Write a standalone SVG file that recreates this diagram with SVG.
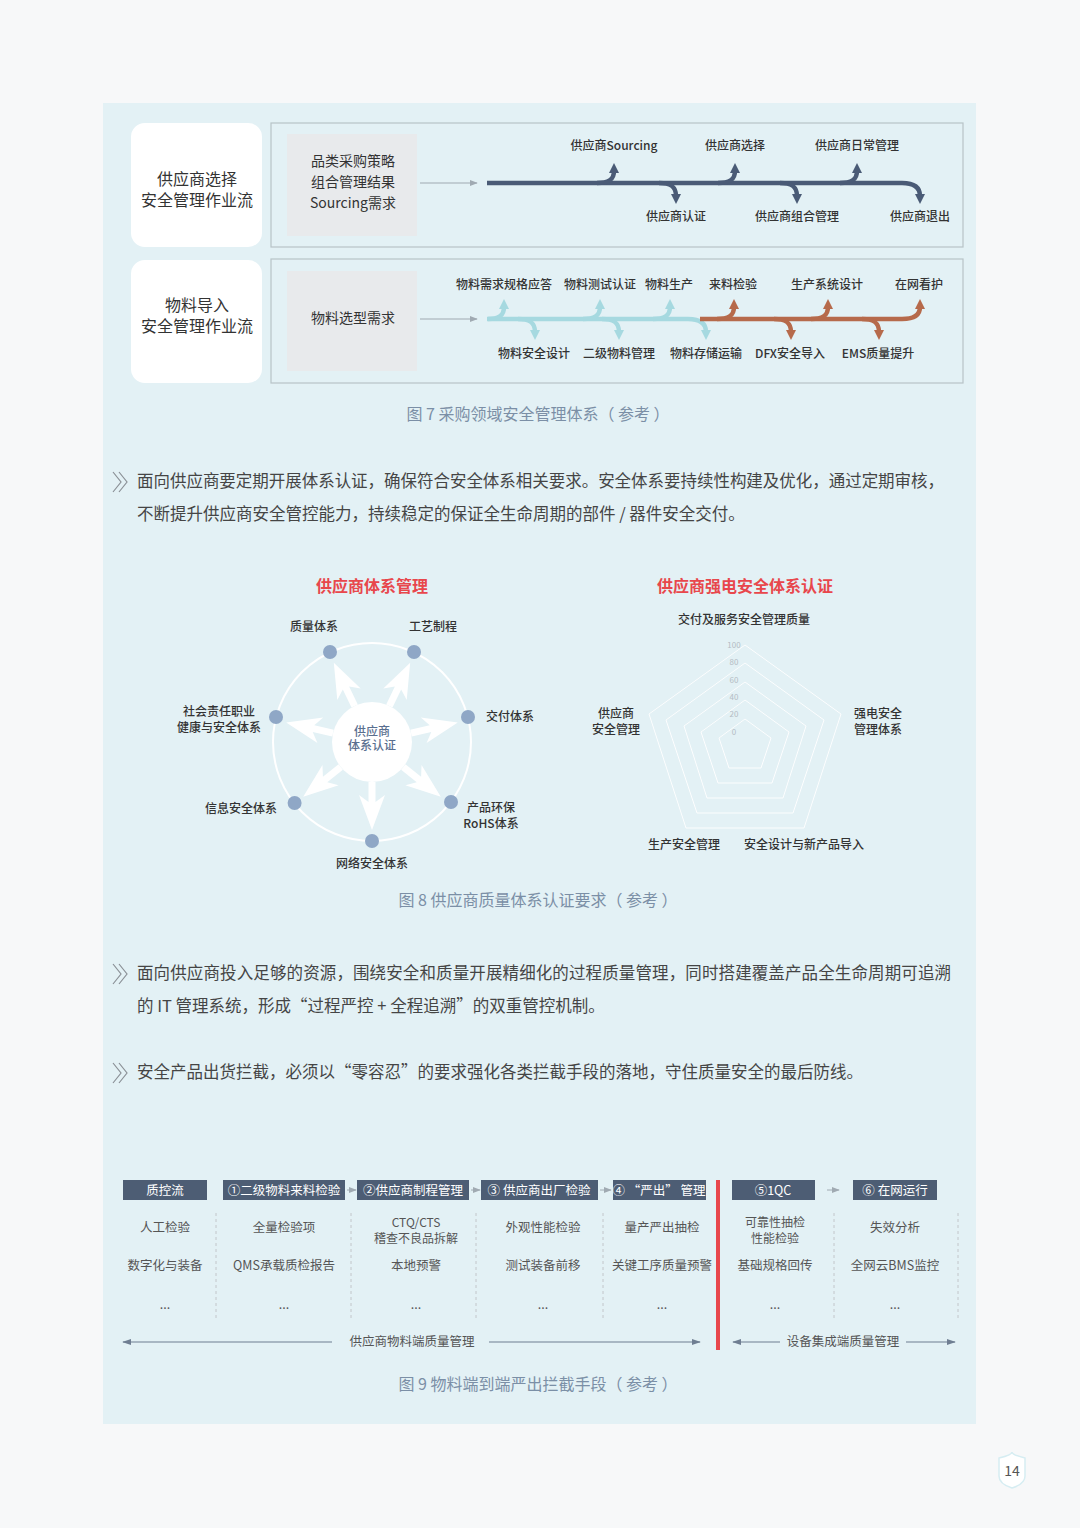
<svg xmlns="http://www.w3.org/2000/svg" width="1080" height="1528" viewBox="0 0 1080 1528">
<defs>
<style>
text{font-family:"Noto Sans CJK SC","Noto Sans",sans-serif;fill:#333}
.hd{font-size:16px;text-anchor:middle;fill:#333}
.gb{font-size:14px;text-anchor:middle;fill:#333}
.fl{font-size:12px;text-anchor:middle;fill:#333;font-weight:500}
.cap{font-size:16px;text-anchor:middle;fill:#7b8fa6}
.para{font-size:16.5px;fill:#454545}
.red{font-size:16px;text-anchor:middle;fill:#e8474c;font-weight:700}
.f8{font-size:12px;fill:#333;font-weight:500}
.sc{font-size:8px;fill:#b4bcc4;text-anchor:middle}
.hdr{font-size:12.5px;fill:#ffffff;text-anchor:middle}
.c9{font-size:12.5px;fill:#555;text-anchor:middle}
.c9s{font-size:12px;fill:#555;text-anchor:middle}
.nav{fill:none;stroke:#4a5b76;stroke-width:4.5;stroke-linecap:butt}
.lb{fill:none;stroke:#a6d9e0;stroke-width:4.5}
.br{fill:none;stroke:#b66a4b;stroke-width:4.5}
.chev{fill:none;stroke:#8a8f95;stroke-width:1.2}
.hbox{fill:#4d5d74}
.dash{stroke:#c2c6ca;stroke-width:1;stroke-dasharray:3 3}
.ln9{stroke:#6f7e92;stroke-width:1.2;fill:none}
</style>
<marker id="mNav" viewBox="0 0 10 10" refX="2" refY="5" markerWidth="10" markerHeight="10" markerUnits="userSpaceOnUse" orient="auto"><path d="M0,0 L10,5 L0,10 z" fill="#4a5b76"/></marker>
<marker id="mLb" viewBox="0 0 10 10" refX="2" refY="5" markerWidth="10" markerHeight="10" markerUnits="userSpaceOnUse" orient="auto"><path d="M0,0 L10,5 L0,10 z" fill="#a6d9e0"/></marker>
<marker id="mBr" viewBox="0 0 10 10" refX="2" refY="5" markerWidth="10" markerHeight="10" markerUnits="userSpaceOnUse" orient="auto"><path d="M0,0 L10,5 L0,10 z" fill="#b66a4b"/></marker>
<marker id="mGr" viewBox="0 0 10 10" refX="9" refY="5" markerWidth="8" markerHeight="8" markerUnits="userSpaceOnUse" orient="auto"><path d="M0,1 L10,5 L0,9 z" fill="#a0aab2"/></marker>
<marker id="m9" viewBox="0 0 10 10" refX="9" refY="5" markerWidth="9" markerHeight="9" markerUnits="userSpaceOnUse" orient="auto-start-reverse"><path d="M0,1.5 L10,5 L0,8.5 z" fill="#6f7e92"/></marker>
<polygon id="warr" points="40,-3.5 60,-3.5 53,-13 88,0 53,13 60,3.5 40,3.5" fill="#ffffff"/>
</defs>

<rect x="0" y="0" width="1080" height="1528" fill="#f7f8f9"/>
<rect x="103" y="103" width="873" height="1321" fill="#e3f1f5"/>

<!-- Figure 7 -->
<g id="row1">
<rect x="131" y="123" width="131" height="124" rx="14" fill="#ffffff"/>
<text class="hd" x="197" y="185">供应商选择</text>
<text class="hd" x="197" y="206">安全管理作业流</text>
<rect x="271" y="123" width="692" height="124" fill="none" stroke="#b7c3c7" stroke-width="1.2"/>
<rect x="287" y="134" width="130" height="102" fill="#e8eaec"/>
<text class="gb" x="353" y="166">品类采购策略</text>
<text class="gb" x="353" y="187">组合管理结果</text>
<text class="gb" x="353" y="208">Sourcing需求</text>
</g>
<g id="row2">
<rect x="131" y="260" width="131" height="123" rx="14" fill="#ffffff"/>
<text class="hd" x="197" y="311">物料导入</text>
<text class="hd" x="197" y="332">安全管理作业流</text>
<rect x="271" y="259" width="692" height="124" fill="none" stroke="#b7c3c7" stroke-width="1.2"/>
<rect x="287" y="271" width="130" height="100" fill="#e8eaec"/>
<text class="gb" x="353" y="323">物料选型需求</text>
</g>
<g id="flow-connectors">
<line x1="420" y1="183" x2="477" y2="183" stroke="#a0aab2" stroke-width="1.2" marker-end="url(#mGr)"/>
<line x1="420" y1="319" x2="477" y2="319" stroke="#a0aab2" stroke-width="1.2" marker-end="url(#mGr)"/>
<path class="nav" d="M487,183 L902,183 C914,183 920,187 920,196" marker-end="url(#mNav)"/>
<path class="nav" d="M597,183 C608,183 614,180 614,171" marker-end="url(#mNav)"/>
<path class="nav" d="M718,183 C729,183 735,180 735,171" marker-end="url(#mNav)"/>
<path class="nav" d="M840,183 C851,183 857,180 857,171" marker-end="url(#mNav)"/>
<path class="nav" d="M659,183 C670,183 676,186 676,196" marker-end="url(#mNav)"/>
<path class="nav" d="M780,183 C791,183 797,186 797,196" marker-end="url(#mNav)"/>

<path class="lb" d="M487,319 L688,319 C700,319 706,323 706,332" marker-end="url(#mLb)"/>
<path class="lb" d="M488,319 C498,319 504,316 504,307" marker-end="url(#mLb)"/>
<path class="lb" d="M583,319 C594,319 600,316 600,307" marker-end="url(#mLb)"/>
<path class="lb" d="M653,319 C664,319 670,316 670,307" marker-end="url(#mLb)"/>
<path class="lb" d="M518,319 C529,319 535,322 535,332" marker-end="url(#mLb)"/>
<path class="lb" d="M602,319 C613,319 619,322 619,332" marker-end="url(#mLb)"/>
<path class="br" d="M700,319 L902,319 C914,319 920,315 920,307" marker-end="url(#mBr)"/>
<path class="br" d="M717,319 C728,319 734,316 734,307" marker-end="url(#mBr)"/>
<path class="br" d="M811,319 C822,319 828,316 828,307" marker-end="url(#mBr)"/>
<path class="br" d="M774,319 C785,319 791,322 791,332" marker-end="url(#mBr)"/>
<path class="br" d="M862,319 C873,319 879,322 879,332" marker-end="url(#mBr)"/>
</g>
<g id="flow-labels">
<text class="fl" x="614" y="150">供应商Sourcing</text>
<text class="fl" x="735" y="150">供应商选择</text>
<text class="fl" x="857" y="150">供应商日常管理</text>
<text class="fl" x="676" y="221">供应商认证</text>
<text class="fl" x="797" y="221">供应商组合管理</text>
<text class="fl" x="920" y="221">供应商退出</text>
<text class="fl" x="504" y="289">物料需求规格应答</text>
<text class="fl" x="600" y="289">物料测试认证</text>
<text class="fl" x="669" y="289">物料生产</text>
<text class="fl" x="733" y="289">来料检验</text>
<text class="fl" x="827" y="289">生产系统设计</text>
<text class="fl" x="919" y="289">在网看护</text>
<text class="fl" x="534" y="358">物料安全设计</text>
<text class="fl" x="619" y="358">二级物料管理</text>
<text class="fl" x="706" y="358">物料存储运输</text>
<text class="fl" x="790" y="358">DFX安全导入</text>
<text class="fl" x="878" y="358">EMS质量提升</text>
</g>
<text class="cap" x="538" y="420">图 7 采购领域安全管理体系（ 参考 ）</text>

<!-- Paragraph 1 -->
<path class="chev" d="M113,472 L121,482 L113,492 M119,472 L127,482 L119,492"/>
<text class="para" x="137" y="487" textLength="807">面向供应商要定期开展体系认证，确保符合安全体系相关要求。安全体系要持续性构建及优化，通过定期审核，</text>
<text class="para" x="137" y="520">不断提升供应商安全管控能力，持续稳定的保证全生命周期的部件 / 器件安全交付。</text>

<!-- Figure 8 left -->
<text class="red" x="372" y="592">供应商体系管理</text>
<g id="hub">
<circle cx="372" cy="742" r="99" fill="none" stroke="#ffffff" stroke-width="2"/>
<use href="#warr" transform="translate(372,742) rotate(90)"/>
<use href="#warr" transform="translate(372,742) rotate(141.43)"/>
<use href="#warr" transform="translate(372,742) rotate(192.86)"/>
<use href="#warr" transform="translate(372,742) rotate(244.29)"/>
<use href="#warr" transform="translate(372,742) rotate(295.71)"/>
<use href="#warr" transform="translate(372,742) rotate(347.14)"/>
<use href="#warr" transform="translate(372,742) rotate(38.57)"/>
<circle cx="372" cy="742" r="40" fill="#ffffff"/>
<text x="372" y="736" text-anchor="middle" font-size="12" font-weight="500" style="fill:#5a6f8f">供应商</text>
<text x="372" y="750" text-anchor="middle" font-size="12" font-weight="500" style="fill:#5a6f8f">体系认证</text>
</g>
<g id="n-wangluo"><circle cx="372" cy="841" r="7" fill="#8fa7c6"/><text class="f8" x="372" y="868" text-anchor="middle">网络安全体系</text></g>
<g id="n-xinxi"><circle cx="294.6" cy="803" r="7" fill="#8fa7c6"/><text class="f8" x="241" y="813" text-anchor="middle">信息安全体系</text></g>
<g id="n-shehui"><circle cx="276" cy="717" r="7" fill="#8fa7c6"/><text class="f8" x="219" y="716" text-anchor="middle">社会责任职业</text><text class="f8" x="219" y="732" text-anchor="middle">健康与安全体系</text></g>
<g id="n-zhiliang"><circle cx="330" cy="652" r="7" fill="#8fa7c6"/><text class="f8" x="314" y="631" text-anchor="middle">质量体系</text></g>
<g id="n-gongyi"><circle cx="414" cy="652" r="7" fill="#8fa7c6"/><text class="f8" x="433" y="631" text-anchor="middle">工艺制程</text></g>
<g id="n-jiaofu"><circle cx="468" cy="717" r="7" fill="#8fa7c6"/><text class="f8" x="486" y="721">交付体系</text></g>
<g id="n-chanpin"><circle cx="451" cy="802" r="7" fill="#8fa7c6"/><text class="f8" x="491" y="812" text-anchor="middle">产品环保</text><text class="f8" x="491" y="828" text-anchor="middle">RoHS体系</text></g>

<!-- Figure 8 right: radar -->
<g id="radar">
<text class="red" x="745" y="592">供应商强电安全体系认证</text>
<g fill="none" stroke="#ffffff" stroke-width="1" opacity="0.9">
<polygon points="745,645 841,714 804,828 686,828 649,714"/>
<polygon points="745,663 824,720 793,813 697,813 666,720"/>
<polygon points="745,682 806,726 783,798 707,798 684,726"/>
<polygon points="745,700 789,732 772,783 718,783 701,732"/>
<polygon points="745,719 771,738 761,768 729,768 719,738"/>
</g>
<text class="sc" x="734" y="648">100</text>
<text class="sc" x="734" y="665">80</text>
<text class="sc" x="734" y="683">60</text>
<text class="sc" x="734" y="700">40</text>
<text class="sc" x="734" y="717">20</text>
<text class="sc" x="734" y="735">0</text>
<text class="f8" x="744" y="624" text-anchor="middle">交付及服务安全管理质量</text>
<text class="f8" x="616" y="718" text-anchor="middle">供应商</text>
<text class="f8" x="616" y="734" text-anchor="middle">安全管理</text>
<text class="f8" x="878" y="718" text-anchor="middle">强电安全</text>
<text class="f8" x="878" y="734" text-anchor="middle">管理体系</text>
<text class="f8" x="684" y="849" text-anchor="middle">生产安全管理</text>
<text class="f8" x="804" y="849" text-anchor="middle">安全设计与新产品导入</text>
</g>
<text class="cap" x="538" y="906">图 8 供应商质量体系认证要求（ 参考 ）</text>

<!-- Paragraphs 2, 3 -->
<path class="chev" d="M113,964 L121,974 L113,984 M119,964 L127,974 L119,984"/>
<text class="para" x="137" y="979" textLength="814">面向供应商投入足够的资源，围绕安全和质量开展精细化的过程质量管理，同时搭建覆盖产品全生命周期可追溯</text>
<text class="para" x="137" y="1012">的 IT 管理系统，形成“过程严控 + 全程追溯”的双重管控机制。</text>
<path class="chev" d="M113,1063 L121,1073 L113,1083 M119,1063 L127,1073 L119,1083"/>
<text class="para" x="137" y="1078">安全产品出货拦截，必须以“零容忍”的要求强化各类拦截手段的落地，守住质量安全的最后防线。</text>

<!-- Figure 9 -->
<g id="fig9-headers">
<rect class="hbox" x="123" y="1180" width="84" height="20"/>
<text class="hdr" x="165" y="1194.5">质控流</text>
<rect class="hbox" x="223" y="1180" width="122" height="20"/>
<text class="hdr" x="284" y="1194.5">①二级物料来料检验</text>
<rect class="hbox" x="357" y="1180" width="112" height="20"/>
<text class="hdr" x="413" y="1194.5">②供应商制程管理</text>
<rect class="hbox" x="481" y="1180" width="117" height="20"/>
<text class="hdr" x="539" y="1194.5">③ 供应商出厂检验</text>
<rect class="hbox" x="613" y="1180" width="93" height="20"/>
<text class="hdr" x="659" y="1194.5">④ “严出” 管理</text>
<rect class="hbox" x="732" y="1180" width="83" height="20"/>
<text class="hdr" x="773" y="1194.5">⑤1QC</text>
<rect class="hbox" x="853" y="1180" width="84" height="20"/>
<text class="hdr" x="895" y="1194.5">⑥ 在网运行</text>
</g>
<g id="fig9-connectors">
<line x1="347" y1="1190" x2="356" y2="1190" stroke="#a0aab2" stroke-width="1" marker-end="url(#mGr)"/>
<line x1="471" y1="1190" x2="480" y2="1190" stroke="#a0aab2" stroke-width="1" marker-end="url(#mGr)"/>
<line x1="600" y1="1190" x2="611" y2="1190" stroke="#a0aab2" stroke-width="1" marker-end="url(#mGr)"/>
<line x1="827" y1="1190" x2="839" y2="1190" stroke="#a0aab2" stroke-width="1" marker-end="url(#mGr)"/>
<line x1="718" y1="1180" x2="718" y2="1350" stroke="#e8474c" stroke-width="4"/>
<line class="dash" x1="216" y1="1213" x2="216" y2="1318"/>
<line class="dash" x1="351" y1="1213" x2="351" y2="1318"/>
<line class="dash" x1="476" y1="1213" x2="476" y2="1318"/>
<line class="dash" x1="603" y1="1213" x2="603" y2="1318"/>
<line class="dash" x1="834" y1="1213" x2="834" y2="1318"/>
<line class="dash" x1="958" y1="1213" x2="958" y2="1318"/>
<line class="ln9" x1="332" y1="1342" x2="123" y2="1342" marker-end="url(#m9)"/>
<line class="ln9" x1="489" y1="1342" x2="700" y2="1342" marker-end="url(#m9)"/>
<line class="ln9" x1="780" y1="1342" x2="733" y2="1342" marker-end="url(#m9)"/>
<line class="ln9" x1="906" y1="1342" x2="955" y2="1342" marker-end="url(#m9)"/>
</g>
<g id="fig9-cells">
<text class="c9" x="165" y="1232">人工检验</text>
<text class="c9" x="165" y="1270">数字化与装备</text>
<text class="c9" x="165" y="1309">...</text>
<text class="c9" x="284" y="1232">全量检验项</text>
<text class="c9" x="284" y="1270">QMS承载质检报告</text>
<text class="c9" x="284" y="1309">...</text>
<text class="c9s" x="416" y="1227">CTQ/CTS</text>
<text class="c9s" x="416" y="1243">稽查不良品拆解</text>
<text class="c9" x="416" y="1270">本地预警</text>
<text class="c9" x="416" y="1309">...</text>
<text class="c9" x="543" y="1232">外观性能检验</text>
<text class="c9" x="543" y="1270">测试装备前移</text>
<text class="c9" x="543" y="1309">...</text>
<text class="c9" x="662" y="1232">量产严出抽检</text>
<text class="c9" x="662" y="1270">关键工序质量预警</text>
<text class="c9" x="662" y="1309">...</text>
<text class="c9s" x="775" y="1227">可靠性抽检</text>
<text class="c9s" x="775" y="1243">性能检验</text>
<text class="c9" x="775" y="1270">基础规格回传</text>
<text class="c9" x="775" y="1309">...</text>
<text class="c9" x="895" y="1232">失效分析</text>
<text class="c9" x="895" y="1270">全网云BMS监控</text>
<text class="c9" x="895" y="1309">...</text>
<text class="c9" x="412" y="1346">供应商物料端质量管理</text>
<text class="c9" x="843" y="1346">设备集成端质量管理</text>
</g>
<text class="cap" x="538" y="1390">图 9 物料端到端严出拦截手段（ 参考 ）</text>

<!-- page number -->
<g id="pagenum">
<path d="M999,1458 Q1012,1455 1012,1452 Q1012,1455 1025,1458 L1025,1476 Q1025,1484 1012,1488 Q999,1484 999,1476 Z" fill="#ffffff" stroke="#d6edf2" stroke-width="1.5"/>
<text x="1012" y="1476" text-anchor="middle" font-size="14" style="fill:#555">14</text>
</g>
</svg>
